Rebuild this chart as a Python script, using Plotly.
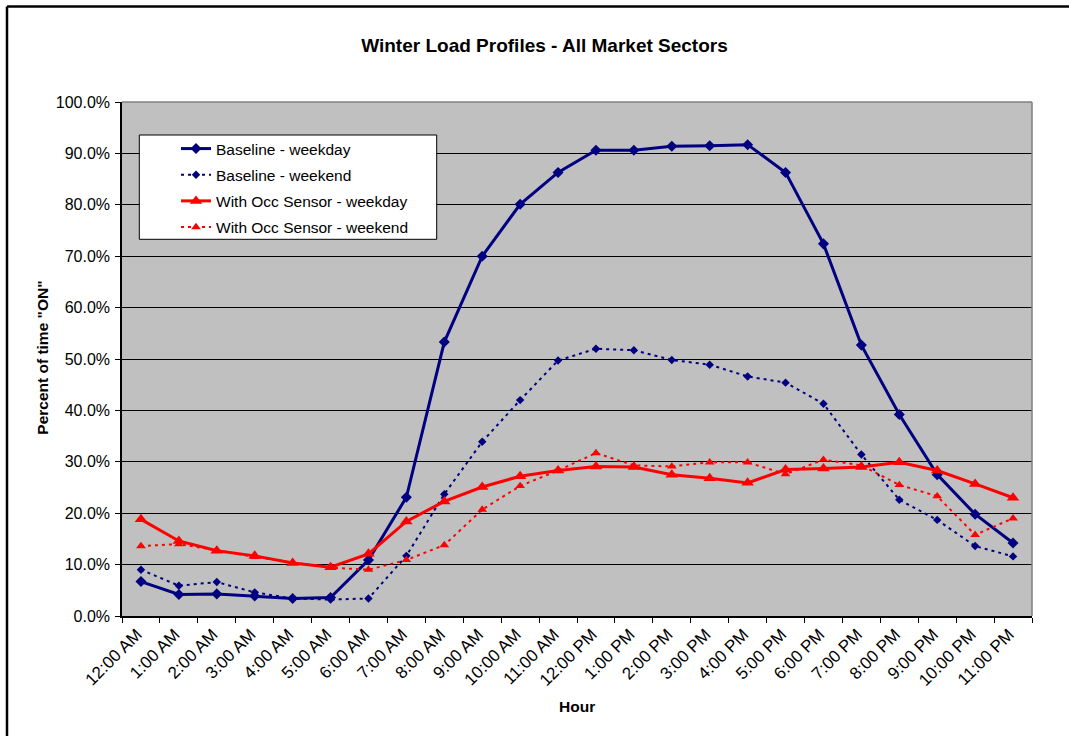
import plotly.graph_objects as go

hours = ["12:00 AM", "1:00 AM", "2:00 AM", "3:00 AM", "4:00 AM", "5:00 AM",
         "6:00 AM", "7:00 AM", "8:00 AM", "9:00 AM", "10:00 AM", "11:00 AM",
         "12:00 PM", "1:00 PM", "2:00 PM", "3:00 PM", "4:00 PM", "5:00 PM",
         "6:00 PM", "7:00 PM", "8:00 PM", "9:00 PM", "10:00 PM", "11:00 PM"]

baseline_weekday = [6.7, 4.2, 4.3, 3.9, 3.4, 3.6, 10.9, 23.1, 53.3, 70.0, 80.1, 86.3,
                    90.6, 90.6, 91.4, 91.5, 91.7, 86.3, 72.4, 52.7, 39.2, 27.5, 19.8, 14.2]
baseline_weekend = [9.0, 5.9, 6.6, 4.6, 3.4, 3.2, 3.4, 11.7, 23.7, 33.9, 42.0, 49.7,
                    52.0, 51.7, 49.8, 48.9, 46.6, 45.4, 41.3, 31.4, 22.6, 18.7, 13.6, 11.6]
occ_weekday = [18.8, 14.6, 12.7, 11.7, 10.3, 9.5, 12.1, 18.4, 22.3, 25.1, 27.2, 28.3,
               29.1, 29.0, 27.5, 26.8, 25.9, 28.5, 28.7, 29.0, 29.9, 28.3, 25.7, 23.0]
occ_weekend = [13.6, 14.0, 12.8, 11.5, 10.4, 9.4, 9.0, 10.9, 13.8, 20.7, 25.3, 28.3,
               31.7, 29.3, 29.1, 29.9, 29.9, 27.6, 30.4, 29.3, 25.5, 23.3, 15.8, 19.0]

series_names = ["Baseline - weekday", "Baseline - weekend",
                "With Occ Sensor - weekday", "With Occ Sensor - weekend"]

FONT = "Arial, 'Liberation Sans', sans-serif"
NAVY = "#000080"
RED = "#FF0000"

W, H = 1069, 736
L, R, T, B = 122, 37, 102, 120
PW, PH = W - L - R, H - T - B


def px_x(p):
    return (p - L) / PW


def px_y(p):
    return (H - B - p) / PH


fig = go.Figure()
styles = [
    (baseline_weekday, NAVY, "solid", 3, "diamond", 8.5),
    (baseline_weekend, NAVY, "3px,4px", 2, "diamond", 6.5),
    (occ_weekday, RED, "solid", 3, "triangle-up", 11),
    (occ_weekend, RED, "3px,4px", 2, "triangle-up", 8.5),
]
for i, (vals, col, dash, lw, sym, ms) in enumerate(styles):
    fig.add_trace(go.Scatter(
        x=hours, y=vals, name=series_names[i], mode="lines+markers",
        legendgroup=f"g{i}",
        line=dict(color=col, width=lw, dash=dash),
        marker=dict(symbol=sym, size=ms, color=col, line=dict(width=0)),
    ))

fig.update_layout(
    width=W, height=H,
    margin=dict(l=L, r=R, t=T, b=B),
    paper_bgcolor="white",
    plot_bgcolor="#C0C0C0",
    font=dict(family=FONT, size=15, color="black"),
    title=dict(text="<b>Winter Load Profiles - All Market Sectors</b>",
               x=544.5 / W, xref="container", xanchor="center",
               y=1 - 45 / H, yref="container", yanchor="middle",
               font=dict(family=FONT, size=19, color="black")),
    showlegend=True,
    legend=dict(x=px_x(176), y=px_y(132), xanchor="left", yanchor="top",
                bgcolor="rgba(0,0,0,0)", borderwidth=0,
                tracegroupgap=3, font=dict(family=FONT, size=15.5, color="black")),
    xaxis=dict(type="category", categoryorder="array", categoryarray=hours,
               range=[-0.5, 23.5], tickson="boundaries", ticks="outside",
               ticklen=5, tickcolor="black", tickangle=-45, ticklabelshift=-4,
               showline=True, linecolor="black", linewidth=1.5,
               showgrid=False, tickfont=dict(family=FONT, size=17)),
    yaxis=dict(range=[0, 100], dtick=10, tick0=0, tickformat=".1f", ticksuffix="%",
               ticks="outside", ticklen=5, tickcolor="black",
               showline=True, linecolor="black", linewidth=1.5,
               showgrid=True, gridcolor="black", gridwidth=1,
               zeroline=False, tickfont=dict(family=FONT, size=16),
               ticklabelstandoff=2),
    shapes=[
        # legend box
        dict(type="rect", xref="paper", yref="paper",
             x0=px_x(139.3), x1=px_x(436.7), y0=px_y(239.3), y1=px_y(135),
             fillcolor="white", line=dict(color="black", width=1), layer="above"),
        # plot area top/right border
        dict(type="line", xref="paper", yref="paper", x0=0, x1=1, y0=1, y1=1,
             line=dict(color="#808080", width=1.5)),
        dict(type="line", xref="paper", yref="paper", x0=1, x1=1, y0=0, y1=1,
             line=dict(color="#808080", width=1.5)),
        # chart area border (top and left visible)
        dict(type="line", xref="paper", yref="paper",
             x0=px_x(7), x1=px_x(1080), y0=px_y(6.5), y1=px_y(6.5),
             line=dict(color="black", width=2.5)),
        dict(type="line", xref="paper", yref="paper",
             x0=px_x(7), x1=px_x(7), y0=px_y(6.5), y1=px_y(760),
             line=dict(color="black", width=2.5)),
    ],
    annotations=[
        dict(text="<b>Hour</b>", xref="paper", yref="paper",
             x=px_x(577), y=px_y(706), xanchor="center", yanchor="middle",
             showarrow=False, font=dict(family=FONT, size=15.5, color="black")),
        dict(text='<b>Percent of time "ON"</b>', xref="paper", yref="paper",
             x=px_x(41.7), y=px_y(358), xanchor="center", yanchor="middle",
             textangle=-90, showarrow=False,
             font=dict(family=FONT, size=15.5, color="black")),
    ],
)

fig.write_html(
    "out.html",
    config={"displayModeBar": False},
    post_script="document.body.style.margin='0';document.body.style.padding='0';"
                "document.body.style.overflow='hidden';",
)
